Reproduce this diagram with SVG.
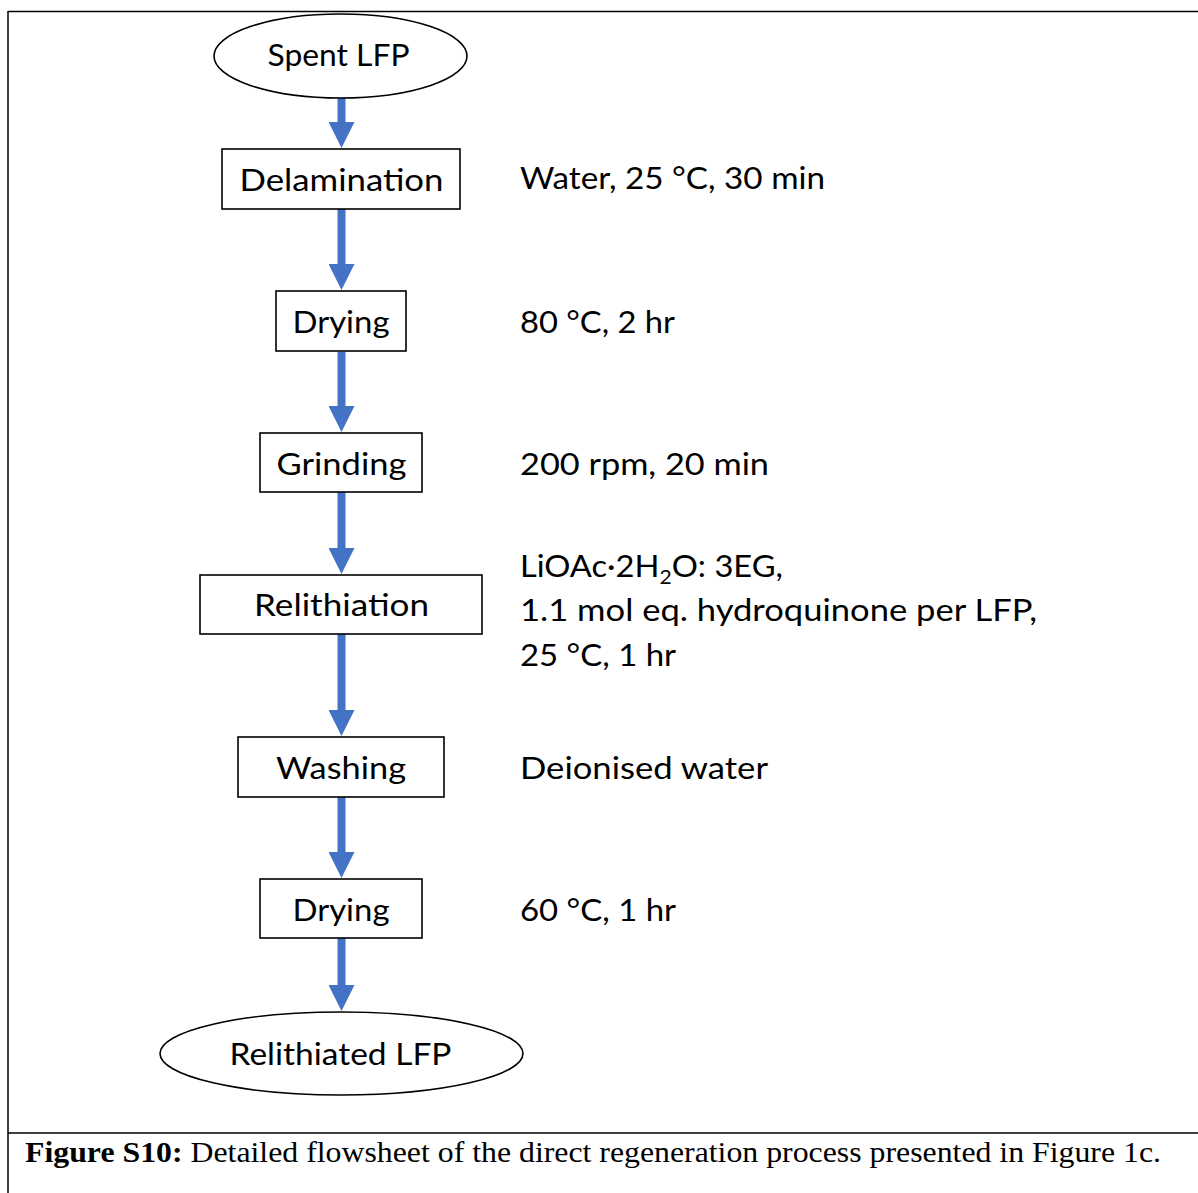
<svg xmlns="http://www.w3.org/2000/svg" width="1198" height="1193" viewBox="0 0 1198 1193">
<style>
  .shape { fill: #ffffff; stroke: #000000; stroke-width: 1.6; }
  .lbl { font-family: Lato, "Open Sans", "DejaVu Sans", sans-serif; font-size: 31px; fill: #000000; }
  .mid { text-anchor: middle; }
  .conn { stroke: #4472C4; stroke-width: 8; fill: none; }
  .frame { stroke: #000000; stroke-width: 1.5; fill: none; }
  .cap { font-family: "Liberation Serif", "Times New Roman", serif; font-size: 29px; fill: #000000; }
</style>
<defs>
  <marker id="head" markerUnits="userSpaceOnUse" markerWidth="26" markerHeight="26" refX="13" refY="13" orient="auto" viewBox="0 0 26 26">
    <path d="M0,0 L26,13 L0,26 Z" fill="#4472C4"/>
  </marker>
</defs>
<rect x="0" y="0" width="1198" height="1193" fill="#ffffff"/>
<g id="frame">
  <line class="frame" x1="8" y1="11.5" x2="1198" y2="11.5"/>
  <line class="frame" x1="8" y1="11" x2="8" y2="1193"/>
  <line class="frame" x1="8" y1="1133" x2="1198" y2="1133"/>
</g>
<g id="connectors">
  <line class="conn" x1="341.5" y1="98" x2="341.5" y2="135" marker-end="url(#head)"/>
  <line class="conn" x1="341.5" y1="209" x2="341.5" y2="277" marker-end="url(#head)"/>
  <line class="conn" x1="341.5" y1="352" x2="341.5" y2="419" marker-end="url(#head)"/>
  <line class="conn" x1="341.5" y1="492" x2="341.5" y2="561" marker-end="url(#head)"/>
  <line class="conn" x1="341.5" y1="634" x2="341.5" y2="723" marker-end="url(#head)"/>
  <line class="conn" x1="341.5" y1="797" x2="341.5" y2="865" marker-end="url(#head)"/>
  <line class="conn" x1="341.5" y1="938" x2="341.5" y2="998" marker-end="url(#head)"/>
</g>
<g id="node-spent-lfp">
  <ellipse class="shape" cx="340.5" cy="56" rx="126.5" ry="42"/>
  <text class="lbl mid" x="338.5" y="66" textLength="142" lengthAdjust="spacingAndGlyphs">Spent LFP</text>
</g>
<g id="node-delamination">
  <rect class="shape" x="222" y="149" width="238" height="60"/>
  <text class="lbl mid" x="341.5" y="191" textLength="204" lengthAdjust="spacingAndGlyphs">Delamination</text>
</g>
<g id="node-drying-1">
  <rect class="shape" x="276" y="291" width="130" height="60"/>
  <text class="lbl mid" x="341" y="333" textLength="97" lengthAdjust="spacingAndGlyphs">Drying</text>
</g>
<g id="node-grinding">
  <rect class="shape" x="260" y="433" width="162" height="59"/>
  <text class="lbl mid" x="341.5" y="475" textLength="130" lengthAdjust="spacingAndGlyphs">Grinding</text>
</g>
<g id="node-relithiation">
  <rect class="shape" x="200" y="575" width="282" height="59"/>
  <text class="lbl mid" x="341.5" y="616" textLength="175" lengthAdjust="spacingAndGlyphs">Relithiation</text>
</g>
<g id="node-washing">
  <rect class="shape" x="238" y="737" width="206" height="60"/>
  <text class="lbl mid" x="341" y="779" textLength="130" lengthAdjust="spacingAndGlyphs">Washing</text>
</g>
<g id="node-drying-2">
  <rect class="shape" x="260" y="879" width="162" height="59"/>
  <text class="lbl mid" x="341" y="921" textLength="97" lengthAdjust="spacingAndGlyphs">Drying</text>
</g>
<g id="node-relithiated-lfp">
  <ellipse class="shape" cx="341.5" cy="1053.5" rx="181.5" ry="41.5"/>
  <text class="lbl mid" x="340.5" y="1065" textLength="222" lengthAdjust="spacingAndGlyphs">Relithiated LFP</text>
</g>
<g id="conditions">
  <text class="lbl" x="520" y="189" textLength="305" lengthAdjust="spacingAndGlyphs">Water, 25 °C, 30 min</text>
  <text class="lbl" x="520" y="333" textLength="155" lengthAdjust="spacingAndGlyphs">80 °C, 2 hr</text>
  <text class="lbl" x="520" y="475" textLength="249" lengthAdjust="spacingAndGlyphs">200 rpm, 20 min</text>
  <text class="lbl" x="520" y="577" textLength="263" lengthAdjust="spacingAndGlyphs">LiOAc·2H<tspan font-size="20" dy="7">2</tspan><tspan dy="-7">O: 3EG,</tspan></text>
  <text class="lbl" x="520" y="621" textLength="517" lengthAdjust="spacingAndGlyphs">1.1 mol eq. hydroquinone per LFP,</text>
  <text class="lbl" x="520" y="666" textLength="156" lengthAdjust="spacingAndGlyphs">25 °C, 1 hr</text>
  <text class="lbl" x="520" y="779" textLength="248" lengthAdjust="spacingAndGlyphs">Deionised water</text>
  <text class="lbl" x="520" y="921" textLength="156" lengthAdjust="spacingAndGlyphs">60 °C, 1 hr</text>
</g>
<g id="caption">
  <text class="cap" x="25" y="1162" textLength="1136" lengthAdjust="spacingAndGlyphs"><tspan font-weight="bold">Figure S10:</tspan> Detailed flowsheet of the direct regeneration process presented in Figure 1c.</text>
</g>
</svg>
